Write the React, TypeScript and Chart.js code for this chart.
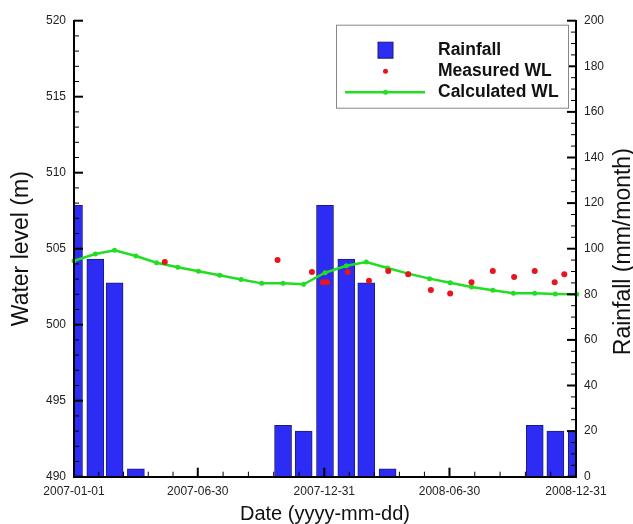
import { useEffect, useRef } from 'react';
import { Chart, registerables } from 'chart.js';

Chart.register(...registerables);

// ---------- data ----------
const monthDates = [
  '2007-01-01', '2007-02-01', '2007-03-01', '2007-04-01', '2007-05-01', '2007-06-01',
  '2007-07-01', '2007-08-01', '2007-09-01', '2007-10-01', '2007-11-01', '2007-12-01',
  '2008-01-01', '2008-02-01', '2008-03-01', '2008-04-01', '2008-05-01', '2008-06-01',
  '2008-07-01', '2008-08-01', '2008-09-01', '2008-10-01', '2008-11-01', '2008-12-01',
  '2009-01-01',
];
const rainfall = [
  119, 95.5, 85, 3.5, 0, 0, 0, 0, 0, 0, 22.5, 20,
  119, 95.5, 85, 3.5, 0, 0, 0, 0, 0, 0, 22.5, 20,
  20,
];
const calculatedWL = [
  504.21, 504.65, 504.89, 504.52, 504.08, 503.78, 503.51, 503.25, 502.97, 502.72, 502.72, 502.66,
  503.42, 503.88, 504.13, 503.73, 503.36, 503.03, 502.76, 502.48, 502.26, 502.07, 502.07, 502.02,
  502.0,
];
const measuredDates = [
  '2007-05-13', '2007-10-24', '2007-12-13', '2007-12-29', '2008-01-04', '2008-02-03',
  '2008-03-05', '2008-04-02', '2008-05-01', '2008-06-03', '2008-07-01', '2008-08-01',
  '2008-09-01', '2008-10-02', '2008-11-01', '2008-11-30', '2008-12-14',
];
const measuredWL = [
  504.13, 504.26, 503.47, 502.79, 502.79, 503.47,
  502.89, 503.53, 503.32, 502.28, 502.06, 502.79,
  503.53, 503.14, 503.53, 502.79, 503.32,
];
const xTickLabels = ['2007-01-01', '2007-06-30', '2007-12-31', '2008-06-30', '2008-12-31'];
const startDate = '2007-01-01';

const dayOf = (d: string) => (Date.parse(d) - Date.parse(startDate)) / 86400000;

const FONT = 'Arial, "Liberation Sans", sans-serif';

// inward tick marks (major + minor)
const inwardTicks = {
  id: 'inwardTicks',
  afterDatasetsDraw(chart: any) {
    const { ctx, chartArea: a, scales } = chart;
    ctx.save();
    ctx.strokeStyle = '#000';
    const doScale = (scale: any, sub: number, kind: 'left' | 'right' | 'bottom') => {
      const vals = scale.ticks.map((t: any) => t.value);
      const mark = (v: number, len: number, w: number) => {
        const p = scale.getPixelForValue(v);
        ctx.lineWidth = w;
        ctx.beginPath();
        if (kind === 'left') { ctx.moveTo(a.left, p); ctx.lineTo(a.left + len, p); }
        else if (kind === 'right') { ctx.moveTo(a.right, p); ctx.lineTo(a.right - len, p); }
        else { ctx.moveTo(p, a.bottom); ctx.lineTo(p, a.bottom - len); }
        ctx.stroke();
      };
      for (let i = 0; i < vals.length; i++) {
        mark(vals[i], 9, 2);
        if (i < vals.length - 1) {
          for (let k = 1; k < sub; k++) mark(vals[i] + ((vals[i + 1] - vals[i]) * k) / sub, 5, 1);
        }
      }
    };
    doScale(scales.y, 5, 'left');
    doScale(scales.y1, 4, 'right');
    doScale(scales.x, 5, 'bottom');
    ctx.restore();
  },
};

const extras = {
  id: 'extras',
  afterDraw(chart: any) {
    const { ctx, chartArea: a } = chart;
    const ds = chart.data.datasets;
    ctx.save();
    // right axis title (bottom-to-top)
    ctx.fillStyle = '#111';
    ctx.font = `23px ${FONT}`;
    ctx.textAlign = 'center';
    ctx.textBaseline = 'middle';
    ctx.translate(a.right + 47.5, (a.top + a.bottom) / 2 + 3);
    ctx.rotate(-Math.PI / 2);
    ctx.fillText('Rainfall (mm/month)', 0, 0);
    ctx.restore();

    // legend box
    ctx.save();
    const bx = a.right - 239.5;
    const by = a.top + 4.5;
    const bw = 232;
    const bh = 83;
    ctx.fillStyle = '#fff';
    ctx.fillRect(bx, by, bw, bh);
    ctx.strokeStyle = '#888';
    ctx.lineWidth = 1;
    ctx.strokeRect(bx, by, bw, bh);
    const sx = bx + 49;
    const tx = bx + 101.5;
    const rows = [by + 25, by + 46, by + 67];
    // Rainfall
    ctx.fillStyle = ds[0].backgroundColor;
    ctx.fillRect(sx - 7.5, rows[0] - 8, 15, 16);
    ctx.strokeStyle = ds[0].borderColor;
    ctx.strokeRect(sx - 7.5, rows[0] - 8, 15, 16);
    // Measured
    ctx.fillStyle = ds[2].pointBackgroundColor;
    ctx.beginPath();
    ctx.arc(sx, rows[1], 2.5, 0, Math.PI * 2);
    ctx.fill();
    // Calculated
    ctx.strokeStyle = ds[1].borderColor;
    ctx.lineWidth = 2.5;
    ctx.beginPath();
    ctx.moveTo(bx + 8.5, rows[2]);
    ctx.lineTo(bx + 88.5, rows[2]);
    ctx.stroke();
    ctx.fillStyle = ds[1].pointBackgroundColor;
    ctx.beginPath();
    ctx.arc(sx, rows[2], 2.5, 0, Math.PI * 2);
    ctx.fill();
    // texts
    ctx.fillStyle = '#111';
    ctx.font = `bold 17.5px ${FONT}`;
    ctx.textAlign = 'left';
    ctx.textBaseline = 'middle';
    ctx.fillText(ds[0].label, tx, rows[0]);
    ctx.fillText(ds[2].label, tx, rows[1]);
    ctx.fillText(ds[1].label, tx, rows[2]);
    ctx.restore();
  },
};

export default function App() {
  const ref = useRef<HTMLCanvasElement>(null);

  useEffect(() => {
    if (!ref.current) return;
    const tickDays = xTickLabels.map(dayOf);
    const chart = new Chart(ref.current, {
      type: 'bar',
      data: {
        datasets: [
          {
            type: 'bar',
            label: 'Rainfall',
            data: monthDates.map((d, i) => ({ x: dayOf(d), y: rainfall[i] })),
            xAxisID: 'x',
            yAxisID: 'y1',
            backgroundColor: '#2c2cf4',
            borderColor: '#1c1c7a',
            borderWidth: 1,
            barThickness: 17,
            clip: 0,
            order: 3,
          } as any,
          {
            type: 'line',
            label: 'Calculated WL',
            data: monthDates.map((d, i) => ({ x: dayOf(d), y: calculatedWL[i] })),
            xAxisID: 'x',
            yAxisID: 'y',
            borderColor: '#22dd22',
            backgroundColor: '#22dd22',
            pointBackgroundColor: '#22dd22',
            pointBorderWidth: 0,
            pointRadius: 2.5,
            borderWidth: 2.5,
            tension: 0,
            clip: 4,
            order: 2,
          } as any,
          {
            type: 'line',
            label: 'Measured WL',
            data: measuredDates.map((d, i) => ({ x: dayOf(d), y: measuredWL[i] })),
            xAxisID: 'x',
            yAxisID: 'y',
            showLine: false,
            borderColor: '#e8141e',
            backgroundColor: '#e8141e',
            pointBackgroundColor: '#e8141e',
            pointBorderWidth: 0,
            pointRadius: 3,
            clip: 4,
            order: 1,
          } as any,
        ],
      },
      options: {
        animation: false,
        responsive: false,
        layout: { padding: { top: 20.7, left: 0, right: 0, bottom: 0 } },
        plugins: { legend: { display: false }, tooltip: { enabled: false } },
        scales: {
          x: {
            type: 'linear',
            position: 'bottom',
            min: 0,
            max: tickDays[tickDays.length - 1],
            offset: false,
            grid: { display: false, drawTicks: false },
            border: { display: true, color: '#000', width: 2, z: 1 },
            afterBuildTicks: (scale: any) => {
              scale.ticks = tickDays.map((v) => ({ value: v }));
            },
            afterFit: (scale: any) => { scale.height = 47.3; },
            ticks: {
              padding: 8,
              maxRotation: 0,
              autoSkip: false,
              color: '#222',
              font: { family: FONT, size: 12 },
              callback: (_v: any, i: number) => xTickLabels[i],
            },
            title: {
              display: true,
              text: 'Date (yyyy-mm-dd)',
              color: '#111',
              font: { family: FONT, size: 20 },
              padding: { top: 0, bottom: -2 },
            },
          },
          y: {
            type: 'linear',
            position: 'left',
            min: 490,
            max: 520,
            grid: { display: false, drawTicks: false },
            border: { display: true, color: '#000', width: 2, z: 1 },
            afterFit: (scale: any) => { scale.width = 74; },
            ticks: {
              stepSize: 5,
              padding: 8,
              color: '#222',
              font: { family: FONT, size: 12 },
            },
            title: {
              display: true,
              text: 'Water level (m)',
              color: '#111',
              font: { family: FONT, size: 23 },
              padding: { top: 8, bottom: 0 },
            },
          },
          y1: {
            type: 'linear',
            position: 'right',
            min: 0,
            max: 200,
            grid: { display: false, drawTicks: false },
            border: { display: true, color: '#000', width: 2, z: 1 },
            afterFit: (scale: any) => { scale.width = 57; },
            ticks: {
              stepSize: 20,
              padding: 8,
              color: '#222',
              font: { family: FONT, size: 12 },
            },
          },
        },
      },
      plugins: [inwardTicks, extras],
    } as any);
    return () => chart.destroy();
  }, []);

  return (
    <div style={{ position: 'absolute', left: 0, top: 0, width: 633, height: 524, background: '#fff' }}>
      <canvas ref={ref} width={633} height={524} style={{ display: 'block' }} />
    </div>
  );
}
